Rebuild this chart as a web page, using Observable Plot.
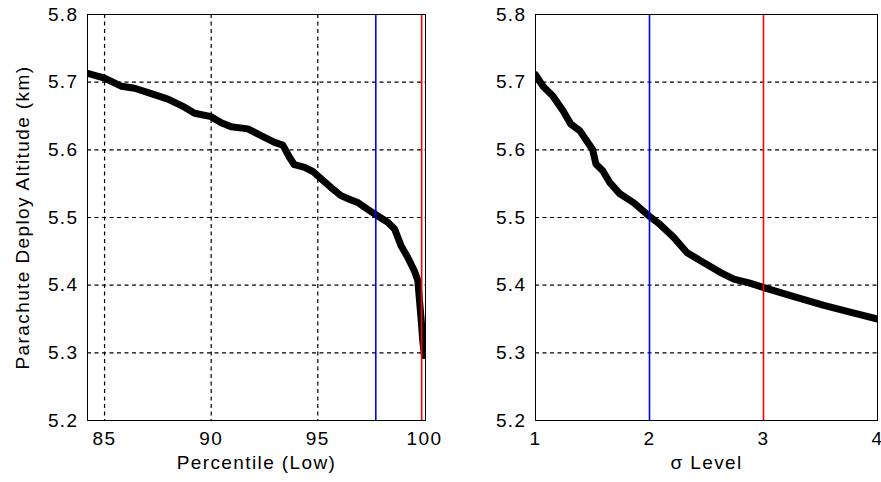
<!DOCTYPE html>
<html><head><meta charset="utf-8">
<script src="https://cdn.jsdelivr.net/npm/d3@7"></script>
<script src="https://cdn.jsdelivr.net/npm/@observablehq/plot@0.6"></script>
<style>
body{margin:0;background:#fff;}
#wrap{display:flex;width:881px;height:482px;overflow:hidden;}
#wrap svg{overflow:visible;flex:none;}
</style></head><body><div id="wrap"></div>
<script>
// Left panel: percentile vs altitude
const pctX = [84.2,85.0,85.78,86.41,87.19,87.97,88.75,89.22,90.0,90.47,90.94,91.72,92.34,92.97,93.36,93.67,93.9,94.38,94.77,95.16,95.63,96.1,96.56,96.88,97.34,97.78,98.28,98.6,98.91,99.22,99.53,99.69,99.77,99.85,99.92,100.0];
const pctAlt = [5.713,5.706,5.694,5.691,5.683,5.675,5.663,5.654,5.649,5.640,5.634,5.631,5.621,5.611,5.607,5.589,5.578,5.574,5.568,5.557,5.544,5.532,5.526,5.522,5.512,5.503,5.493,5.483,5.458,5.441,5.421,5.407,5.377,5.348,5.318,5.296];
// Right panel: sigma level vs altitude
const sigX = [1.0,1.065,1.15,1.24,1.31,1.39,1.45,1.50,1.53,1.59,1.65,1.74,1.86,1.99,2.09,2.21,2.33,2.47,2.62,2.74,2.88,2.99,3.23,3.53,3.76,4.0];
const sigAlt = [5.711,5.694,5.680,5.658,5.638,5.628,5.613,5.601,5.579,5.569,5.552,5.535,5.522,5.503,5.490,5.471,5.448,5.434,5.419,5.409,5.403,5.397,5.385,5.370,5.360,5.350];
// Reference lines
const pctBlue = [97.72];
const pctRed = [99.87];
const sigBlue = [2];
const sigRed = [3];
// Ticks and labels
const yTicks = [5.2,5.3,5.4,5.5,5.6,5.7,5.8];
const yGrid = [5.3,5.4,5.5,5.6,5.7];
const pctTicks = [85,90,95,100];
const pctGrid = [85,90,95];
const sigTicks = [1,2,3,4];
const yLabel = "Parachute Deploy Altitude (km)";
const pctLabel = "Percentile (Low)";
const sigLabel = "σ Level";

const font = {fontFamily: "'Liberation Sans', Arial, sans-serif", fontSize: "19px", letterSpacing: "1.4px", background: "transparent", overflow: "visible", color: "black"};
const dash = "4,3.5";

const left = Plot.plot({
  width: 440, height: 482,
  marginLeft: 87, marginRight: 15, marginTop: 14, marginBottom: 62,
  style: font,
  x: {domain: [84.2, 100.05]},
  y: {domain: [5.2, 5.8]},
  marks: [
    Plot.gridY(yGrid, {stroke: "black", strokeOpacity: 1, strokeDasharray: dash, strokeWidth: 1.2}),
    Plot.gridX(pctGrid, {stroke: "black", strokeOpacity: 1, strokeDasharray: dash, strokeWidth: 1.2}),
    Plot.line(pctX.map((x, i) => ({x, y: pctAlt[i]})), {x: "x", y: "y", stroke: "black", strokeWidth: 7, clip: true}),
    Plot.ruleX(pctBlue, {stroke: "#0000ff", strokeWidth: 1.6}),
    Plot.ruleX(pctRed, {stroke: "#ff0000", strokeWidth: 1.6}),
    Plot.frame({stroke: "black", strokeWidth: 1}),
    Plot.axisY({ticks: yTicks, tickFormat: d3.format(".1f"), tickSize: 0, tickPadding: 9, label: null}),
    Plot.axisX({ticks: pctTicks, tickFormat: d => String(d), tickSize: 0, tickPadding: 11, label: null}),
    Plot.text([yLabel], {text: d => d, frameAnchor: "left", textAnchor: "middle", rotate: -90, dx: -65}),
    Plot.text([pctLabel], {text: d => d, frameAnchor: "bottom", dy: 48})
  ]
});

const right = Plot.plot({
  width: 441, height: 482,
  marginLeft: 95, marginRight: 4, marginTop: 14, marginBottom: 62,
  style: font,
  x: {domain: [1, 4]},
  y: {domain: [5.2, 5.8]},
  marks: [
    Plot.gridY(yGrid, {stroke: "black", strokeOpacity: 1, strokeDasharray: dash, strokeWidth: 1.2}),
    Plot.line(sigX.map((x, i) => ({x, y: sigAlt[i]})), {x: "x", y: "y", stroke: "black", strokeWidth: 7, clip: true}),
    Plot.ruleX(sigBlue, {stroke: "#0000ff", strokeWidth: 1.6}),
    Plot.ruleX(sigRed, {stroke: "#ff0000", strokeWidth: 1.6}),
    Plot.frame({stroke: "black", strokeWidth: 1}),
    Plot.axisY({ticks: yTicks, tickFormat: d3.format(".1f"), tickSize: 0, tickPadding: 9, label: null}),
    Plot.axisX({ticks: sigTicks, tickFormat: d => String(d), tickSize: 0, tickPadding: 11, label: null}),
    Plot.text([sigLabel], {text: d => d, frameAnchor: "bottom", dy: 48})
  ]
});

const wrap = document.getElementById("wrap");
wrap.appendChild(left);
wrap.appendChild(right);
</script>
</body></html>
